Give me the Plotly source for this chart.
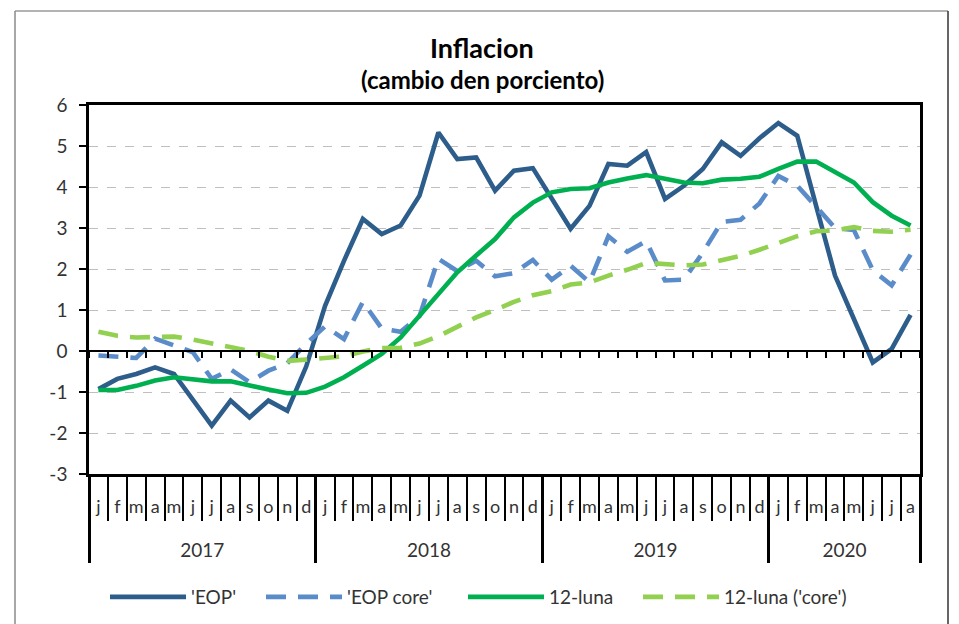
import plotly.graph_objects as go

# ---------------- data ----------------
years = ["2017", "2018", "2019", "2020"]
month_letters = ["j", "f", "m", "a", "m", "j", "j", "a", "s", "o", "n", "d"]
months_per_year = [12, 12, 12, 8]

eop = [-0.93, -0.68, -0.56, -0.40, -0.56, -1.18, -1.82, -1.21, -1.62, -1.21, -1.46, -0.38,
       1.10, 2.20, 3.22, 2.85, 3.06, 3.79, 5.33, 4.68, 4.72, 3.91, 4.40, 4.46,
       3.71, 2.98, 3.54, 4.56, 4.52, 4.85, 3.71, 4.03, 4.44, 5.09, 4.76, 5.19,
       5.56, 5.25, 3.54, 1.84, 0.78, -0.28, 0.05, 0.88]

eop_core = [-0.11, -0.15, -0.17, 0.30, 0.13, -0.03, -0.68, -0.45, -0.76, -0.48, -0.30, 0.18,
            0.60, 0.29, 1.20, 0.55, 0.47, 0.85, 2.25, 1.95, 2.20, 1.82, 1.90, 2.22,
            1.74, 2.08, 1.68, 2.80, 2.42, 2.68, 1.72, 1.74, 2.40, 3.15, 3.20, 3.60,
            4.27, 4.03, 3.52, 3.00, 2.95, 1.97, 1.60, 2.35]

luna12 = [-0.95, -0.95, -0.85, -0.72, -0.64, -0.68, -0.74, -0.74, -0.85, -0.94, -1.03, -1.02,
          -0.87, -0.64, -0.36, -0.07, 0.33, 0.86, 1.43, 1.92, 2.33, 2.73, 3.26, 3.62,
          3.87, 3.95, 3.97, 4.11, 4.21, 4.29, 4.20, 4.11, 4.09, 4.18, 4.20, 4.25,
          4.44, 4.62, 4.62, 4.36, 4.11, 3.63, 3.30, 3.06]

luna12_core = [0.47, 0.37, 0.33, 0.35, 0.35, 0.28, 0.19, 0.11, 0.00, -0.14, -0.24, -0.21,
               -0.17, -0.13, -0.01, 0.07, 0.08, 0.18, 0.36, 0.58, 0.82, 1.00, 1.20, 1.36,
               1.46, 1.62, 1.67, 1.84, 1.98, 2.15, 2.12, 2.09, 2.11, 2.22, 2.32, 2.47,
               2.64, 2.80, 2.92, 2.94, 3.02, 2.93, 2.91, 2.96]

y_ticks = [-3, -2, -1, 0, 1, 2, 3, 4, 5, 6]
y_tick_text = ["-3", "-2", "-1", "0", "1", "2", "3", "4", "5", "6"]

# ---------------- derived category positions ----------------
month_text = []
for n in months_per_year:
    month_text += month_letters[:n]
n_months = len(month_text)
x = list(range(n_months))

boundaries = [i - 0.5 for i in range(n_months + 1)]
year_bounds = [-0.5]
year_centers = []
acc = 0
for n in months_per_year:
    year_centers.append(acc + (n - 1) / 2)
    acc += n
    year_bounds.append(acc - 0.5)

FONT = "Lato"
TXT = "#333333"
xr = [-0.5, n_months - 0.5]

# page has an 8px body margin: figure origin sits at (8, 8) in the window
OFF = 8
PL, PT, PW, PH = 89 - OFF, 105 - OFF, 831, 369      # plot area in figure px
W, H = 959 - OFF, 624 - OFF


def px_x(px):      # window px -> paper x
    return (px - OFF - PL) / PW


def px_y(py):      # window px -> paper y
    return (PT + PH - (py - OFF)) / PH


fig = go.Figure()

series = [
    ("'EOP'", eop, "#2D5D8B", "solid", "legend", 112),
    ("'EOP core'", eop_core, "#5B8CCA", "20px,12px", "legend2", 268),
    ("12-luna", luna12, "#00B050", "solid", "legend3", 470),
    ("12-luna ('core')", luna12_core, "#92D050", "20px,12px", "legend4", 645),
]
for name, vals, col, dash, leg, _ in series:
    fig.add_trace(go.Scatter(x=x, y=vals, name=name, mode="lines", legend=leg,
                             line=dict(color=col, width=4.6, dash=dash)))

# dummy traces so overlay axes get drawn
for ax in ["x2", "x3", "x4", "x5"]:
    fig.add_trace(go.Scatter(x=[None], y=[None], xaxis=ax, yaxis="y",
                             showlegend=False, hoverinfo="skip"))

ymin, ymax = y_ticks[0], y_ticks[-1]
zero_pos = (0 - ymin) / (ymax - ymin)

legend_common = dict(orientation="h", xanchor="left", yanchor="middle",
                     y=px_y(597), font=dict(size=19, family=FONT, color=TXT),
                     bgcolor="rgba(0,0,0,0)", itemwidth=76)
legends = {}
for _, _, _, _, leg, sym_x in series:
    legends[leg] = dict(legend_common, x=px_x(sym_x - 7))

fig.update_layout(
    width=W, height=H,
    margin=dict(l=PL, r=W - PL - PW, t=PT, b=H - PT - PH, autoexpand=False),
    paper_bgcolor="white", plot_bgcolor="white",
    font=dict(family=FONT, color=TXT),
    xaxis=dict(range=xr, tickmode="array", tickvals=x, ticktext=month_text,
               ticks="", showgrid=False, zeroline=False,
               showline=True, mirror=True, linecolor="black", linewidth=2.5,
               tickfont=dict(size=18, family=FONT, color=TXT),
               ticklabelstandoff=15),
    xaxis2=dict(overlaying="x", anchor="free", position=zero_pos, range=xr,
                tickmode="array", tickvals=boundaries, ticks="outside",
                ticklen=6, tickwidth=2, tickcolor="black",
                showticklabels=False, showline=True, linecolor="black",
                linewidth=2, showgrid=False, zeroline=False),
    xaxis3=dict(overlaying="x", anchor="y", side="bottom", range=xr,
                tickmode="array", tickvals=boundaries, ticks="outside",
                ticklen=46, tickwidth=1.5, tickcolor="black",
                showticklabels=False, showline=False, showgrid=False, zeroline=False),
    xaxis4=dict(overlaying="x", anchor="y", side="bottom", range=xr,
                tickmode="array", tickvals=year_bounds, ticks="outside",
                ticklen=88, tickwidth=2.5, tickcolor="black",
                showticklabels=False, showline=False, showgrid=False, zeroline=False),
    xaxis5=dict(overlaying="x", anchor="y", side="bottom", range=xr,
                tickmode="array", tickvals=year_centers, ticktext=years,
                ticks="", showline=False, showgrid=False, zeroline=False,
                tickfont=dict(size=19, family=FONT, color=TXT),
                ticklabelstandoff=63),
    yaxis=dict(range=[ymin, ymax], tickmode="array", tickvals=y_ticks,
               ticktext=y_tick_text,
               ticks="outside", ticklen=7, tickwidth=2, tickcolor="black",
               showline=True, mirror=True, linecolor="black", linewidth=2.5,
               showgrid=True, gridcolor="#BFBFBF", gridwidth=1, griddash="dash",
               zeroline=False,
               tickfont=dict(size=19, family=FONT, color=TXT),
               ticklabelstandoff=8),
    showlegend=True,
    **legends,
)

# titles
fig.add_annotation(text="<b>Inflacion</b>", xref="paper", yref="paper",
                   x=px_x(482), y=px_y(47), showarrow=False,
                   font=dict(size=27, family=FONT, color="black"),
                   xanchor="center", yanchor="middle")
fig.add_annotation(text="<b>(cambio den porciento)</b>", xref="paper", yref="paper",
                   x=px_x(482), y=px_y(80), showarrow=False,
                   font=dict(size=24, family=FONT, color="black"),
                   xanchor="center", yanchor="middle")

# outer chart border
L, R, T, B = px_x(15), px_x(948), px_y(11), px_y(660)
fig.add_shape(type="line", xref="paper", yref="paper", x0=L, x1=R, y0=T, y1=T,
              line=dict(color="#9A9A9A", width=1.5))
fig.add_shape(type="line", xref="paper", yref="paper", x0=L, x1=L, y0=T, y1=B,
              line=dict(color="#8A8A8A", width=1.5))
fig.add_shape(type="line", xref="paper", yref="paper", x0=R, x1=R, y0=T, y1=B,
              line=dict(color="#333333", width=1.5))

fig.write_html("out.html")
